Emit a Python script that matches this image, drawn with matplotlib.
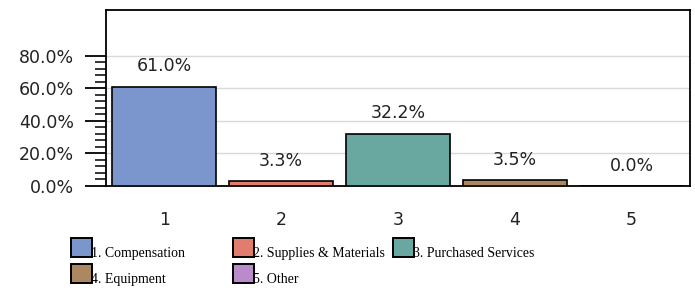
import matplotlib
matplotlib.use("Agg")
import matplotlib.pyplot as plt
from matplotlib.patches import Rectangle
from matplotlib.ticker import FixedLocator, FuncFormatter

categories = ["1", "2", "3", "4", "5"]
values = [61.0, 3.3, 32.2, 3.5, 0.0]
legend_labels = ["1. Compensation", "2. Supplies & Materials", "3. Purchased Services",
                 "4. Equipment", "5. Other"]
colors = ["#7b96cc", "#e07d6e", "#68a8a0", "#ab8860", "#b98bca"]

W, H = 695, 288
fig = plt.figure(figsize=(W / 100, H / 100), dpi=100)
ax = fig.add_axes([106 / W, 1 - 186 / H, (690 - 106) / W, (186 - 10) / H])

x = list(range(1, len(categories) + 1))
ax.bar(x, values, width=0.89, color=colors, edgecolor="black", linewidth=1.2, zorder=3)
for xi, v in zip(x, values):
    ax.annotate(f"{v:.1f}%", (xi, v), xytext=(0, 8), textcoords="offset points",
                ha="center", va="bottom", fontsize=12.5, color="#222222")

ax.set_xlim(0.5, 5.5)
ax.set_ylim(0, 108)
ax.set_xticks(x)
ax.set_xticklabels(categories)
ax.set_yticks([0, 20, 40, 60, 80])
ax.yaxis.set_minor_locator(FixedLocator([v for v in range(0, 81, 4) if v % 20]))
ax.yaxis.set_major_formatter(FuncFormatter(lambda v, p: f"{v:.1f}%"))
ax.grid(axis="y", color="#d9d9d9", linewidth=1, zorder=0)
ax.tick_params(axis="y", which="major", length=15, width=1.3, pad=8, labelsize=12.5,
               labelcolor="#222222")
ax.tick_params(axis="y", which="minor", length=8, width=1.1)
ax.tick_params(axis="x", length=0, pad=18, labelsize=12.5, labelcolor="#222222")
for s in ax.spines.values():
    s.set_linewidth(1.3)

# legend drawn in figure pixels
col_x = [71, 233, 393]
row_y = [257, 283]
for i, (lab, c) in enumerate(zip(legend_labels, colors)):
    px = col_x[i % 3]
    py = row_y[i // 3]
    fig.add_artist(Rectangle((px / W, 1 - py / H), 21 / W, 19 / H, transform=fig.transFigure,
                             facecolor=c, edgecolor="black", linewidth=1.4))
    fig.text((px + 20) / W, 1 - py / H, lab, fontsize=10, family="Liberation Serif",
             ha="left", va="baseline")

fig.savefig("out.png", dpi=100)
